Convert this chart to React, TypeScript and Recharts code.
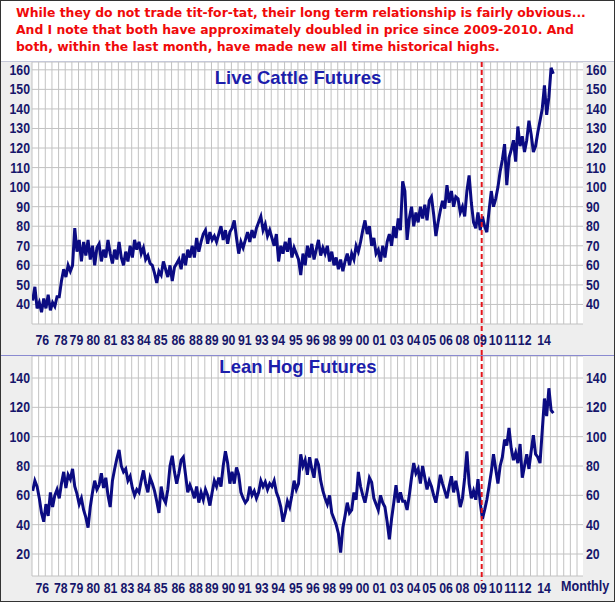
import { LineChart, Line, XAxis, YAxis, CartesianGrid, ReferenceLine } from 'recharts';

// bimonthly samples, one row per year, starting late 1975
const startYear = 1975.8;
const step = 1 / 6;

const cattle = [
  42, 49, 38, 41, 36, 43,
  38, 45, 37, 41, 39, 44,
  44, 52, 58, 54, 60, 57,
  60, 79, 67, 73, 62, 72,
  65, 73, 63, 70, 60, 69,
  71, 62, 68, 64, 73, 66,
  61, 68, 63, 72, 64, 60,
  67, 62, 70, 64, 73, 68,
  72, 66, 69, 63, 65, 61,
  60, 56, 51, 57, 55, 62,
  58, 54, 60, 52, 59, 61,
  63, 58, 66, 60, 68, 64,
  70, 64, 74, 67, 72, 76,
  78, 71, 77, 73, 75, 72,
  76, 80, 73, 78, 71, 77,
  79, 83, 74, 66, 72, 69,
  73, 77, 72, 78, 74, 79,
  82, 85, 78, 81, 75, 78,
  74, 70, 76, 62, 70, 66,
  72, 67, 74, 64, 69, 66,
  63, 55, 66, 60, 70, 64,
  71, 63, 68, 73, 65, 69,
  66, 70, 62, 67, 60, 64,
  58, 63, 57, 62, 66, 60,
  66, 63, 70, 67, 72, 78,
  83, 76, 80, 70, 74, 66,
  68, 62, 70, 64, 72, 76,
  70, 80, 74, 84, 78, 103,
  98, 73, 84, 90, 80, 87,
  82, 90, 84, 91, 83, 93,
  95, 86, 75, 82, 88, 93,
  89, 101, 92, 98, 90, 95,
  94, 87, 90, 85, 98, 106,
  92, 82, 79, 87, 78, 85,
  80, 77, 88, 98, 90, 94,
  100, 108, 114, 122, 101, 115,
  119, 124, 113, 131, 121, 126,
  118, 124, 134, 127, 118, 121,
  128, 134, 140, 152, 137, 146,
  161, 158,
];

const hogs = [
  63, 70, 66, 58, 48, 42,
  54, 46, 62, 52, 60, 64,
  58, 68, 76, 65, 74, 71,
  78, 66, 61, 54, 58, 50,
  45, 38, 52, 62, 70, 64,
  67, 75, 65, 72, 60, 52,
  70, 78, 85, 91, 80, 76,
  78, 70, 73, 65, 60, 64,
  62, 70, 77, 68, 62, 72,
  68, 63, 56, 48, 66, 58,
  55, 64, 80, 87, 76, 68,
  75, 84, 86, 74, 62, 67,
  63, 58, 66, 55, 62, 57,
  64, 60, 53, 62, 70, 66,
  72, 66, 80, 90, 82, 68,
  76, 68, 79, 74, 62, 58,
  55, 57, 66, 60, 63, 58,
  62, 70, 66, 69, 64, 68,
  66, 70, 62, 58, 52, 42,
  48, 56, 52, 60, 70, 64,
  68, 88, 80, 84, 74, 86,
  78, 72, 85, 81, 70, 63,
  58, 54, 60, 48, 44, 40,
  34, 21, 38, 46, 55, 48,
  50, 62, 57, 76, 66, 60,
  55, 63, 72, 69, 58, 54,
  50, 60, 55, 52, 42, 30,
  44, 55, 67, 55, 62, 56,
  56, 50, 60, 72, 82, 75,
  78, 68, 80, 72, 64, 70,
  66, 60, 55, 64, 74, 68,
  63, 58, 66, 73, 62, 70,
  62, 52, 58, 72, 90, 68,
  58, 63, 57, 71, 55, 44,
  50, 57, 66, 76, 88, 78,
  68, 80, 86, 98, 94, 106,
  92, 84, 89, 82, 95, 72,
  80, 88, 78, 90, 101, 88,
  86, 82, 104, 126, 114, 133,
  118, 116,
];

const xLabels = ['76', '78', '79', '80', '81', '83', '84', '85', '86', '88', '89', '90', '91', '93', '94', '95',
  '96', '98', '99', '00', '01', '03', '04', '05', '06', '08', '09', '10', '11', '12', '14'];
const xLabelPos = [1976.53, 1977.91, 1979.09, 1980.36, 1981.66, 1982.93, 1984.16, 1985.43, 1986.76, 1988.08,
  1989.27, 1990.53, 1991.76, 1993.04, 1994.27, 1995.6, 1996.88, 1998.11, 1999.35, 2000.61, 2001.88, 2003.18,
  2004.45, 2005.63, 2006.9, 2008.13, 2009.46, 2010.63, 2011.76, 2012.81, 2014.27];

const cattleTicks = [40, 50, 60, 70, 80, 90, 100, 110, 120, 130, 140, 150, 160];
const hogTicks = [20, 40, 60, 80, 100, 120, 140];
const markerYear = 2009.58;

const xDomain: [number, number] = [1975.75, 2017.2];
// vertical grid every half year
const gridTicks = Array.from({ length: 83 }, (_, i) => 1975.75 + i * 0.5);

const cattleData = cattle.map((v, i) => ({ t: startYear + i * step, v }));
const hogData = hogs.map((v, i) => ({ t: startYear + i * step, v }));

const navy = '#16166b';
const sans = "'Liberation Sans', Arial, sans-serif";

const labelFor = (v: number) => {
  const i = xLabelPos.findIndex((p) => Math.abs(p - v) < 0.001);
  return i >= 0 ? xLabels[i] : '';
};

// squeezed bold text, close to the narrow face of the original
function NarrowText({ x, y, anchor, text }: { x: number; y: number; anchor: 'start' | 'middle' | 'end'; text: string }) {
  return (
    <g transform={`translate(${x},${y})`}>
      <text transform="scale(0.82,1)" textAnchor={anchor} fontFamily={sans} fontWeight={700} fontSize={15} fill={navy}>
        {text}
      </text>
    </g>
  );
}

const gridX = ({ xAxis }: any) => {
  const s = xAxis.scale;
  const f = typeof s === 'function' ? s : (v: number) => s.map(v);
  return gridTicks.map((t) => f(t));
};

function Panel({ data, domain, ticks, height, axisHeight, lineBottom, labelDy }: {
  data: { t: number; v: number }[]; domain: [number, number]; ticks: number[];
  height: number; axisHeight: number; lineBottom: number; labelDy: number;
}) {
  return (
    <LineChart width={615} height={height} data={data} margin={{ top: 0, right: 0, bottom: 0, left: 0 }}>
      <CartesianGrid xAxisId="main" yAxisId="left" stroke="#c2c2c2" fill="#ffffff"
        verticalCoordinatesGenerator={gridX} />
      <XAxis xAxisId="main" dataKey="t" type="number" domain={xDomain} ticks={xLabelPos} interval={0}
        height={axisHeight} axisLine={false} tickLine={false} tickSize={0} tickMargin={0}
        tick={(p: any) => <NarrowText x={p.x} y={p.y + labelDy} anchor="middle" text={labelFor(p.payload.value)} />}
        allowDataOverflow />
      <YAxis yAxisId="left" domain={domain} ticks={ticks} interval={0} width={32} axisLine={false}
        tickLine={false} tickSize={0} tickMargin={0}
        tick={(p: any) => <NarrowText x={30} y={p.y + 5} anchor="end" text={String(p.payload.value)} />}
        allowDataOverflow />
      <YAxis yAxisId="right" orientation="right" domain={domain} ticks={ticks} interval={0} width={32}
        axisLine={false} tickLine={false} tickSize={0} tickMargin={0}
        tick={(p: any) => <NarrowText x={586} y={p.y + 5} anchor="start" text={String(p.payload.value)} />}
        allowDataOverflow />
      <Line xAxisId="main" yAxisId="left" dataKey="v" stroke="#0b0b82" strokeWidth={3} dot={false}
        type="linear" isAnimationActive={false} />
      <ReferenceLine xAxisId="main" yAxisId="left" ifOverflow="visible" stroke="#e4141b" strokeWidth={2}
        strokeDasharray="5 3"
        segment={[{ x: markerYear, y: domain[1] }, { x: markerYear, y: lineBottom }]} />
    </LineChart>
  );
}

const title = { position: 'absolute' as const, left: 0, width: 596, textAlign: 'center' as const,
  fontFamily: sans, fontWeight: 700, fontSize: 18.5, lineHeight: '22px', color: '#1c1eac' };

export default function App() {
  return (
    <div style={{ position: 'absolute', left: 0, top: 0, width: 615, height: 602, background: '#eeeeee', overflow: 'hidden' }}>
      <div style={{ position: 'absolute', left: 0, top: 0, width: 615, height: 61, background: '#ffffff',
        color: '#f00a0a', fontFamily: "'DejaVu Sans', Verdana, sans-serif", fontWeight: 700, fontSize: 12.4,
        lineHeight: '17px', paddingLeft: 16, paddingTop: 4, boxSizing: 'border-box', whiteSpace: 'pre' }}>
        {'While they do not trade tit-for-tat, their long term relationship is fairly obvious...\n'}
        {'And I note that both have approximately doubled in price since 2009-2010. And\n'}
        {'both, within the last month, have made new all time historical highs.'}
      </div>
      <div style={{ position: 'absolute', left: 0, top: 61, width: 615, height: 1, background: '#c5c8d8' }} />
      <div style={{ position: 'absolute', left: 0, top: 62 }}>
        <Panel data={cattleData} domain={[30, 164]} ticks={cattleTicks} height={293} axisHeight={31}
          lineBottom={14} labelDy={21} />
      </div>
      <div style={{ position: 'absolute', left: 0, top: 355, width: 615, height: 1, background: '#8a8ad0' }} />
      <div style={{ position: 'absolute', left: 0, top: 356 }}>
        <Panel data={hogData} domain={[5, 155]} ticks={hogTicks} height={246} axisHeight={26}
          lineBottom={1.6} labelDy={16.5} />
      </div>
      <div style={{ ...title, top: 67 }}>Live Cattle Futures</div>
      <div style={{ ...title, top: 356 }}>Lean Hog Futures</div>
      <div style={{ position: 'absolute', left: 561, top: 577, fontFamily: sans, fontWeight: 700, fontSize: 15,
        color: navy, transform: 'scaleX(0.84)', transformOrigin: 'left top', whiteSpace: 'nowrap' }}>
        Monthly
      </div>
      <div style={{ position: 'absolute', left: 0, top: 0, width: 615, height: 602, border: '1px solid #333',
        boxSizing: 'border-box', pointerEvents: 'none' }} />
    </div>
  );
}
